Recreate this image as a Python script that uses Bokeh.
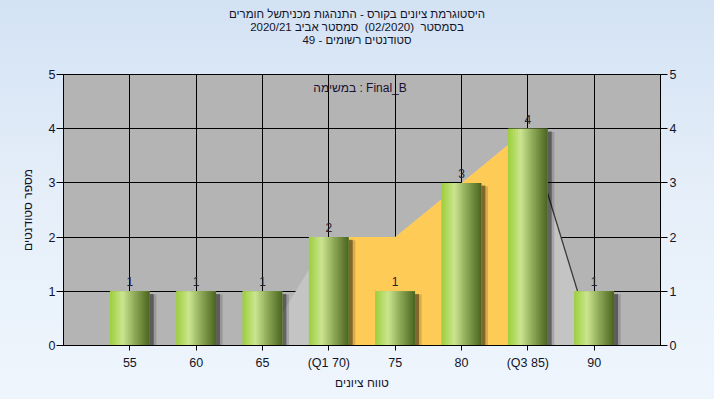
from bokeh.plotting import figure
from bokeh.models import ColumnDataSource, FixedTicker, LinearAxis, Label, Range1d, Div
from bokeh.layouts import column
from bokeh.embed import file_html
from bokeh.resources import INLINE
from bokeh.core.properties import value

# ---------------- data ----------------
categories = ["55", "60", "65", "(Q1 70)", "75", "80", "(Q3 85)", "90"]
counts = [1, 1, 1, 2, 1, 3, 4, 1]
y_ticks = [0, 1, 2, 3, 4, 5]

# background distribution area (category position -> height)
area_pos = [3, 4, 5, 6, 7, 8]
area_vals = [0, 2, 2, 3, 4, 0]
q1_pos = 4
q3_pos = 7

title_lines = [
    "היסטוגרמת ציונים בקורס - התנהגות מכניתשל חומרים",
    "בסמסטר\u00a0 (02/2020)\u00a0 סמסטר אביב 2020/21",
    "סטודנטים רשומים - 49",
]
inner_label = "במשימה : Final_B"
x_title = "טווח ציונים"
y_title = "מספר סטודנטים"

FONT = "Liberation Sans"
TXT = "#141428"

positions = list(range(1, len(categories) + 1))

# ---------------- title block ----------------
title_html = "".join(
    '<div style="height:13px;line-height:13px;white-space:nowrap;">%s</div>' % t for t in title_lines)
div = Div(text=title_html, width=704, height=42,
          styles={"text-align": "center", "font-family": "'Liberation Sans', Arial, sans-serif",
                  "font-size": "11.5px", "color": TXT, "padding-top": "3px",
                  "box-sizing": "border-box"})

p = figure(width=704, height=347, output_backend="svg", toolbar_location=None,
           x_range=Range1d(0, len(categories) + 1), y_range=Range1d(0, 5),
           min_border_left=63, min_border_right=44, min_border_top=22, min_border_bottom=54)
p.border_fill_color = None
p.background_fill_color = "#b4b4b4"
p.outline_line_color = "black"
p.outline_line_width = 1

# grids
p.xgrid.ticker = FixedTicker(ticks=positions)
p.ygrid.ticker = FixedTicker(ticks=y_ticks)
for g in (p.xgrid, p.ygrid):
    g.grid_line_color = "black"
    g.grid_line_width = 1

# axes
xa = p.xaxis[0]
xa.ticker = FixedTicker(ticks=positions)
xa.major_label_overrides = {pos: c for pos, c in zip(positions, categories)}
xa.axis_label = x_title
ya = p.yaxis[0]
ya.ticker = FixedTicker(ticks=y_ticks)
ya.axis_label = y_title
ra = LinearAxis(ticker=FixedTicker(ticks=y_ticks))
p.add_layout(ra, "right")

for ax in (xa, ya, ra):
    ax.axis_line_color = "black"
    ax.major_tick_line_color = "black"
    ax.minor_tick_line_color = None
    ax.major_tick_in = 0
    ax.major_label_text_font = FONT
    ax.major_label_text_font_size = "12.5px"
    ax.major_label_text_color = TXT
    ax.axis_label_text_font = FONT
    ax.axis_label_text_font_size = "12px"
    ax.axis_label_text_font_style = "normal"
    ax.axis_label_text_color = TXT
xa.major_tick_out = 5
xa.major_label_standoff = 5
xa.axis_label_standoff = 3
ya.major_tick_out = 7
ya.major_label_standoff = 1
ya.axis_label_standoff = 11
ra.major_tick_out = 7
ra.major_label_standoff = 2

# ---------------- area ----------------
light_x = area_pos + [area_pos[-1], area_pos[0]]
light_y = area_vals + [0, 0]
p.patch(light_x, light_y, fill_color="#c4c4c4", line_color=None)

iq = [(px, v) for px, v in zip(area_pos, area_vals) if q1_pos <= px <= q3_pos]
or_x = [a for a, _ in iq] + [iq[-1][0], iq[0][0]]
or_y = [b for _, b in iq] + [0, 0]
p.patch(or_x, or_y, fill_color="#ffcb57", line_color=None)

i3 = area_pos.index(q3_pos)
p.line(area_pos[i3:], area_vals[i3:], line_color="#3a3a3a", line_width=1.3)

# ---------------- bars ----------------
bw = 0.6
# shadows
p.vbar(x=[x + 0.09 for x in positions], width=bw + 0.02, top=[c - 0.06 for c in counts],
       bottom=0, fill_color="black", fill_alpha=0.15, line_color=None)
p.vbar(x=[x + 0.06 for x in positions], width=bw, top=[c - 0.05 for c in counts],
       bottom=0, fill_color="black", fill_alpha=0.4, line_color=None)

stops = [(0.0, (155, 207, 60)), (0.32, (204, 229, 144)), (0.62, (142, 170, 88)), (1.0, (74, 100, 30))]


def grad(t):
    for (t0, c0), (t1, c1) in zip(stops[:-1], stops[1:]):
        if t <= t1:
            f = (t - t0) / (t1 - t0)
            r, g, b = (round(c0[k] + (c1[k] - c0[k]) * f) for k in range(3))
            return "#%02x%02x%02x" % (r, g, b)
    return "#%02x%02x%02x" % stops[-1][1]


# solid base under the gradient strips (hides anti-alias seams)
p.vbar(x=positions, top=counts, bottom=0, width=bw, fill_color=grad(0.5), line_color=None)

N = 24
sw = bw / N
ql, qr, qt, qc = [], [], [], []
for x, c in zip(positions, counts):
    left = x - bw / 2
    for j in range(N):
        t = (j + 0.5) / N
        ql.append(left + j * sw)
        qr.append(min(left + (j + 1.6) * sw, left + bw))
        qt.append(c)
        qc.append(grad(t))
strip_src = ColumnDataSource(dict(left=ql, right=qr, top=qt, color=qc))
p.quad(left="left", right="right", top="top", bottom=0, fill_color="color",
       line_color=None, source=strip_src)

# value labels
lbl_src = ColumnDataSource(dict(x=positions, y=counts, t=[str(c) for c in counts]))
p.text(x="x", y="y", text="t", source=lbl_src, text_align="center", text_baseline="bottom",
       y_offset=-5, text_font=value(FONT), text_font_size="12px", text_color="#222233")

# inner label
p.add_layout(Label(x=4.47, y=4.75, text=inner_label, text_align="center", text_baseline="middle",
                   text_font=FONT, text_font_size="12px", text_color="#1a1030"))

layout = column(div, p, spacing=0,
                styles={"background": "linear-gradient(to bottom, #d3e2f4 0%, #e6eff9 50%, #eef5fd 100%)"})

open("out.html", "w").write(file_html(layout, INLINE))
